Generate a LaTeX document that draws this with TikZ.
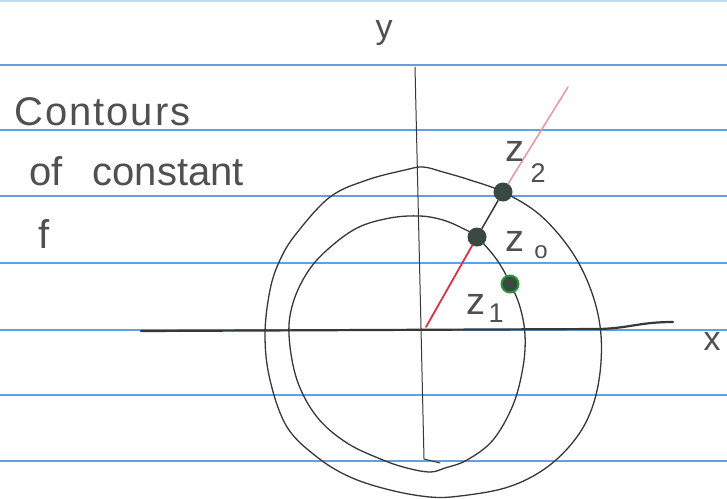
\documentclass[tikz,border=0pt]{standalone}
\usepackage{fontspec}
\setmainfont{Liberation Sans}
\definecolor{ruleblue}{RGB}{100,160,225}
\definecolor{pencilgray}{RGB}{55,55,55}
\definecolor{textgray}{RGB}{80,80,80}
\definecolor{dotgray}{RGB}{58,72,66}
\definecolor{dotgreen}{RGB}{40,150,50}
\definecolor{redpen}{RGB}{215,50,70}
\definecolor{pinkpen}{RGB}{232,150,165}
\begin{document}
\begin{tikzpicture}[x=1pt,y=-1pt,
  rule/.style={draw=ruleblue,line width=1.6pt},
  pencil/.style={draw=pencilgray,line width=1.3pt,line join=round,line cap=round},
  hand/.style={text=textgray,inner sep=0pt,font=\fontsize{38}{38}\selectfont},
  handsub/.style={text=textgray,inner sep=0pt,font=\fontsize{27}{27}\selectfont},
  dotnode/.style={circle,fill=dotgray,minimum size=19pt,inner sep=0pt},
  greendot/.style={circle,fill=dotgray,draw=dotgreen,line width=2pt,minimum size=17pt,inner sep=0pt}]
\useasboundingbox (0,0) rectangle (727,498);
\fill[white] (0,0) rectangle (727,498);
% notebook rules
\draw[rule,draw=ruleblue!40] (0,1) -- (727,1);
\foreach \yy in {65,130,196,263,330,395,461}
  \draw[rule] (0,\yy) -- (727,\yy);
% axes
\coordinate (ytop) at (415,67);
\coordinate (ybot) at (424,459);
\coordinate (xleft) at (141,331);
\coordinate (xright) at (673,322);
\coordinate (origin) at (426,327);
\draw[pencil,line width=1pt] (ytop) -- (ybot) -- (440,463);
\draw[pencil,line width=2.2pt] (xleft) -- (600,329) .. controls (630,328) and (640,322) .. (xright);
\node[hand,font=\fontsize{34}{34}\selectfont] (lbly) at (384,33) {y};
\node[hand,font=\fontsize{34}{34}\selectfont] (lblx) at (712,342) {x};
% outer contour
\draw[pencil] plot[smooth cycle,tension=0.6] coordinates {
 (423,167) (443,172) (470,180) (503,192) (540,215) (572,252) (592,293) (601,335)
 (599,380) (588,418) (568,448) (540,472) (505,488) (460,496) (430,497) (390,490)
 (350,477) (317,457) (287,427) (270,380) (265,335) (270,290) (280,260) (296,234)
 (330,197) (367,180) (405,170)};
% inner contour
\draw[pencil] plot[smooth cycle,tension=0.6] coordinates {
 (420,216) (443,220) (462,228) (477,237) (497,260) (510,283) (520,307) (525,335)
 (523,367) (513,405) (493,440) (467,460) (445,468) (430,472) (407,468) (383,460)
 (347,443) (317,417) (297,380) (289,335) (293,303) (307,273) (327,250) (357,228)
 (390,218)};
% points
\node[dotnode] (z2) at (503,192) {};
\node[dotnode] (z0) at (477,237) {};
\node[greendot] (z1) at (510,284) {};
\coordinate (rayend) at (568,87);
\draw[redpen,line width=1.8pt,line cap=round] (origin) -- (z0);
\draw[pencilgray,line width=1.5pt] (z0) -- (z2);
\draw[pinkpen,line width=1.5pt,line cap=round] (z2) -- (rayend);
% labels
\node[hand] (z2l) at (515,151) {z};
\node[handsub] (z2s) at (538,173) {2};
\node[hand] (z0l) at (515,241) {z};
\node[handsub,font=\fontsize{24}{24}\selectfont] (z0s) at (541,252) {o};
\node[hand] (z1l) at (476,304) {z};
\node[handsub] (z1s) at (496,313) {1};
% note
\node[hand,anchor=base west,font=\fontsize{40}{40}\selectfont\addfontfeature{LetterSpace=5}] (t1) at (14,125) {Contours};
\node[hand,anchor=base west,font=\fontsize{40}{40}\selectfont] (t2) at (29,185) {of\hspace{30pt}constant};
\node[hand,anchor=base west,font=\fontsize{40}{40}\selectfont] (t3) at (38,248) {f};
\end{tikzpicture}
\end{document}
